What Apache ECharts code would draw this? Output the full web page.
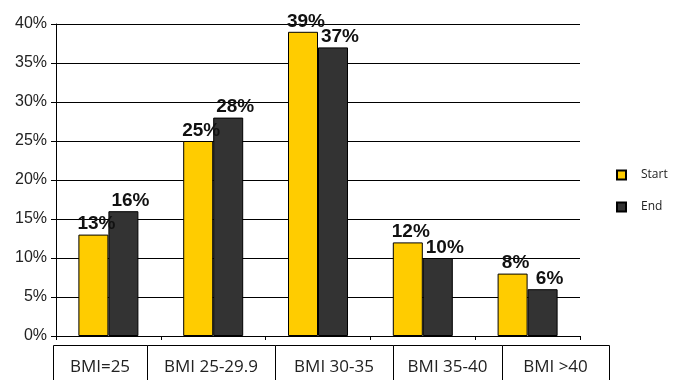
<!DOCTYPE html>
<html>
<head>
<meta charset="utf-8">
<script src="https://cdn.jsdelivr.net/npm/echarts@6/dist/echarts.min.js"></script>
<style>
  html, body { margin: 0; padding: 0; background: #fff; }
  #chart { width: 678px; height: 380px; }
</style>
</head>
<body>
<div id="chart"></div>
<script>
// BMI groups and share of participants at start and end
const categories = ['BMI=25', 'BMI 25-29.9', 'BMI 30-35', 'BMI 35-40', 'BMI >40'];
const startValues = [13, 25, 39, 12, 8];
const endValues = [16, 28, 37, 10, 6];
const seriesNames = ['Start', 'End'];

// Edges of the category table cells under the axis
const cellEdges = [53, 147, 275, 393, 502, 609];

const chart = echarts.init(document.getElementById('chart'), null, { renderer: 'canvas' });

const barLabel = (dx) => ({
  show: true,
  position: 'top',
  distance: 1,
  offset: [dx, 0],
  formatter: '{c}%',
  fontFamily: '"Liberation Sans", Arial, sans-serif',
  fontWeight: 'bold',
  fontSize: 19,
  color: '#111'
});

// Table of category names drawn below the x axis
const tableTop = 345.5;
const tableElements = [];
for (let i = 0; i < categories.length; i++) {
  const x0 = cellEdges[i], x1 = cellEdges[i + 1];
  tableElements.push({
    type: 'rect',
    shape: { x: x0 + 0.5, y: tableTop, width: x1 - x0, height: 60 },
    style: { fill: '#fff', stroke: '#000', lineWidth: 1 },
    silent: true
  });
  tableElements.push({
    type: 'text',
    x: (x0 + x1) / 2,
    y: 367,
    style: {
      text: categories[i],
      fontFamily: '"Open Sans", sans-serif',
      fontSize: 17,
      fill: '#222',
      align: 'center',
      verticalAlign: 'middle'
    },
    silent: true
  });
}

chart.setOption({
  animation: false,
  backgroundColor: '#fff',
  grid: { left: 56, right: 98, top: 24, bottom: 44, containLabel: false },
  legend: {
    orient: 'vertical',
    left: 611,
    top: 164,
    itemWidth: 9,
    itemHeight: 9,
    itemGap: 20,
    icon: 'rect',
    data: seriesNames,
    textStyle: {
      fontFamily: '"Open Sans", sans-serif',
      fontSize: 12,
      color: '#222',
      padding: [0, 0, 0, 10]
    }
  },
  xAxis: {
    type: 'category',
    data: categories,
    boundaryGap: true,
    axisLine: { show: true, lineStyle: { color: '#000', width: 1 } },
    axisTick: { show: true, length: 4, alignWithLabel: false, lineStyle: { color: '#000' } },
    axisLabel: { show: false },
    splitLine: { show: false }
  },
  yAxis: {
    type: 'value',
    min: 0,
    max: 40,
    interval: 5,
    axisLine: { show: true, lineStyle: { color: '#000', width: 1 } },
    axisTick: { show: true, length: 5, lineStyle: { color: '#000' } },
    axisLabel: {
      formatter: '{value}%',
      margin: 9,
      fontFamily: '"Liberation Sans", Arial, sans-serif',
      fontSize: 16,
      color: '#222'
    },
    splitLine: { show: true, lineStyle: { color: '#000', width: 1 } }
  },
  series: [
    {
      name: seriesNames[0],
      type: 'bar',
      data: startValues,
      barWidth: 30,
      barGap: '0%',
      itemStyle: { color: '#FFCC00', borderColor: '#000', borderWidth: 1 },
      label: barLabel(3)
    },
    {
      name: seriesNames[1],
      type: 'bar',
      data: endValues,
      barWidth: 30,
      barGap: '0%',
      itemStyle: { color: '#333333', borderColor: '#000', borderWidth: 1 },
      label: barLabel(7)
    }
  ],
  graphic: tableElements
});
</script>
</body>
</html>
